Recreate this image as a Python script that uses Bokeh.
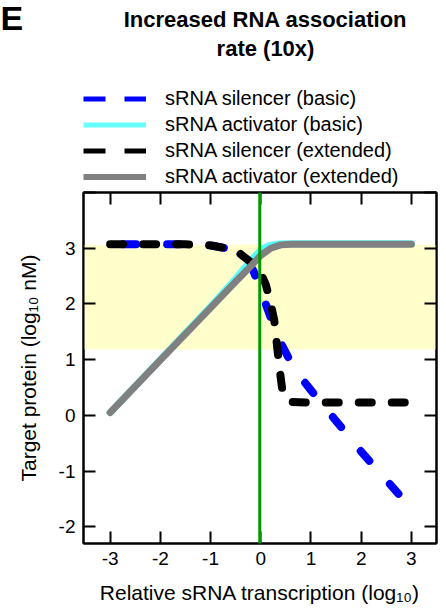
from bokeh.plotting import figure
from bokeh.layouts import column
from bokeh.models import (Range1d, FixedTicker, LinearAxis, BoxAnnotation, Span,
                          Label, Legend, LegendItem)
from bokeh.embed import file_html
from bokeh.resources import INLINE

# ---------------- data ----------------
title_lines = ["Increased RNA association", "rate (10x)"]
panel_letter = "E"
x_label = "Relative sRNA transcription (log₁₀)"
y_label = "Target protein (log₁₀ nM)"

x_ticks = [-3, -2, -1, 0, 1, 2, 3]
x_tick_labels = ["-3", "-2", "-1", "0", "1", "2", "3"]
y_ticks = [-2, -1, 0, 1, 2, 3, 4]
y_tick_labels = ["-2", "-1", "0", "1", "2", "3", ""]

# silencer, basic model (blue dashed)
sil_basic_x = [-3, -1.5, -1, -0.7, -0.45, -0.3, -0.15, 0, 0.2, 0.4, 0.6, 0.8, 1.0, 1.5, 2.0, 2.5, 3.0]
sil_basic_y = [3.07, 3.07, 3.05, 3.0, 2.92, 2.8, 2.6, 2.25, 1.75, 1.3, 0.95, 0.68, 0.45, -0.1, -0.65, -1.16, -1.67]

# activator, basic model (cyan)
act_basic_x = [-3, -2, -1, -0.5, -0.25, 0, 0.15, 0.3, 0.5, 1, 2, 3]
act_basic_y = [0.05, 1.0, 1.95, 2.45, 2.72, 2.97, 3.04, 3.07, 3.08, 3.08, 3.08, 3.08]

# silencer, extended model (black dashed)
sil_ext_x = [-3, -1.5, -1, -0.7, -0.45, -0.2, 0, 0.1, 0.2, 0.27, 0.33, 0.38, 0.43, 0.5, 0.6, 1, 2, 3]
sil_ext_y = [3.07, 3.07, 3.05, 3.0, 2.93, 2.75, 2.55, 2.35, 2.0, 1.7, 1.2, 0.8, 0.45, 0.28, 0.24, 0.23, 0.23, 0.23]

# activator, extended model (gray)
act_ext_x = [-3, -2, -1, -0.5, -0.25, 0, 0.2, 0.4, 0.6, 1, 2, 3]
act_ext_y = [0.05, 0.99, 1.93, 2.4, 2.63, 2.87, 3.0, 3.06, 3.07, 3.07, 3.07, 3.07]

band_bottom, band_top = 1.18, 3.06      # shaded (yellow) range
wild_type_x = -0.02                      # green vertical line

series_names = ["sRNA silencer (basic)", "sRNA activator (basic)",
                "sRNA silencer (extended)", "sRNA activator (extended)"]

FONT = "Liberation Sans"

# ---------------- styles ----------------
plot_styles = [
    dict(line_color="#0000FF", line_width=8, line_dash="13 31", line_dash_offset=31),
    dict(line_color="#55FFFF", line_width=7),
    dict(line_color="black", line_width=8, line_dash="13 20"),
    dict(line_color="#808080", line_width=7),
]
legend_styles = [
    dict(line_color="#0000FF", line_width=5, line_dash="22 19"),
    dict(line_color="#66FFFF", line_width=5),
    dict(line_color="black", line_width=5, line_dash="22 19"),
    dict(line_color="#808080", line_width=6),
]

HEAD_H = 189
FRAME_TOP = 192

# ---------------- header figure (panel letter, title, legend) ----------------
head = figure(width=446, height=HEAD_H, x_range=Range1d(0, 446), y_range=Range1d(HEAD_H, 0),
              output_backend="svg", toolbar_location=None,
              x_axis_location=None, y_axis_location=None, min_border=0)
head.outline_line_color = None
head.xgrid.visible = False
head.ygrid.visible = False
head.background_fill_color = "white"
head.border_fill_color = "white"

for txt, yy in zip(title_lines, [19, 48]):
    head.add_layout(Label(x=265, y=yy, text=txt, text_align="center",
                          text_baseline="middle", text_font=FONT,
                          text_font_style="bold", text_font_size="22px",
                          text_color="black"))
head.add_layout(Label(x=0, y=17, text=panel_letter, text_align="left",
                      text_baseline="middle", text_font=FONT,
                      text_font_style="bold", text_font_size="34px",
                      text_color="black"))

# legend key samples (a single empty point each, so only the key is drawn)
nan = float("nan")
key_renderers = [head.line([nan], [nan], line_cap="butt", **st) for st in legend_styles]
legend = Legend(items=[LegendItem(label=n, renderers=[r]) for n, r in
                       zip(series_names, key_renderers)],
                location=(83, 0), glyph_width=63, glyph_height=25,
                label_height=25, label_standoff=19, spacing=1, padding=0,
                margin=0, border_line_color=None, background_fill_alpha=0,
                label_text_font=FONT, label_text_font_size="20px",
                label_text_color="black", label_text_baseline="middle")
head.add_layout(legend)

# ---------------- main figure ----------------
p = figure(frame_width=353, frame_height=351,
           x_range=Range1d(-3.53, 3.5), y_range=Range1d(-2.3, 4.0),
           output_backend="svg", toolbar_location=None,
           min_border_left=83, min_border_right=10,
           min_border_top=FRAME_TOP - HEAD_H, min_border_bottom=70)
p.xgrid.visible = False
p.ygrid.visible = False
p.outline_line_color = "black"
p.outline_line_width = 2
p.background_fill_color = "white"
p.border_fill_color = "white"

for fig in (head, p):
    try:
        fig.frame_align = False
    except Exception:
        pass


def style_axis(ax, ticks, labels=None):
    ax.ticker = FixedTicker(ticks=ticks)
    ax.major_tick_in = 12
    ax.major_tick_out = 0
    ax.minor_tick_line_color = None
    ax.axis_line_width = 2
    ax.axis_line_color = "black"
    ax.major_tick_line_width = 2
    ax.major_tick_line_color = "black"
    if labels is not None:
        ax.major_label_overrides = dict(zip(ticks, labels))
        ax.major_label_text_font = FONT
        ax.major_label_text_font_size = "19px"
        ax.major_label_text_color = "black"
    else:
        ax.major_label_text_font_size = "2px"
        ax.major_label_text_color = None
        ax.major_label_standoff = 0


xa = p.xaxis[0]
style_axis(xa, x_ticks, x_tick_labels)
xa.major_label_standoff = 8
xa.axis_label = x_label
xa.axis_label_text_font = FONT
xa.axis_label_text_font_size = "21px"
xa.axis_label_text_font_style = "normal"
xa.axis_label_text_color = "black"
xa.axis_label_standoff = 13

ya = p.yaxis[0]
style_axis(ya, y_ticks, y_tick_labels)
ya.major_label_standoff = 8
ya.axis_label = y_label
ya.axis_label_text_font = FONT
ya.axis_label_text_font_size = "21px"
ya.axis_label_text_font_style = "normal"
ya.axis_label_text_color = "black"
ya.axis_label_standoff = 16

top_ax = LinearAxis()
style_axis(top_ax, x_ticks)
p.add_layout(top_ax, "above")
right_ax = LinearAxis()
style_axis(right_ax, y_ticks)
p.add_layout(right_ax, "right")

# shaded band
p.add_layout(BoxAnnotation(bottom=band_bottom, top=band_top, fill_color="#FFFFCC",
                           fill_alpha=1.0, line_color=None, level="underlay"))

# curves
xs = [sil_basic_x, act_basic_x, sil_ext_x, act_ext_x]
ys = [sil_basic_y, act_basic_y, sil_ext_y, act_ext_y]
for x, y, st in zip(xs, ys, plot_styles):
    p.line(x, y, line_cap="round", line_join="round", **st)

# green vertical line
p.add_layout(Span(location=wild_type_x, dimension="height", line_color="#009900",
                  line_width=3))

layout = column(head, p, spacing=0)
open("out.html", "w").write(file_html(layout, INLINE))
